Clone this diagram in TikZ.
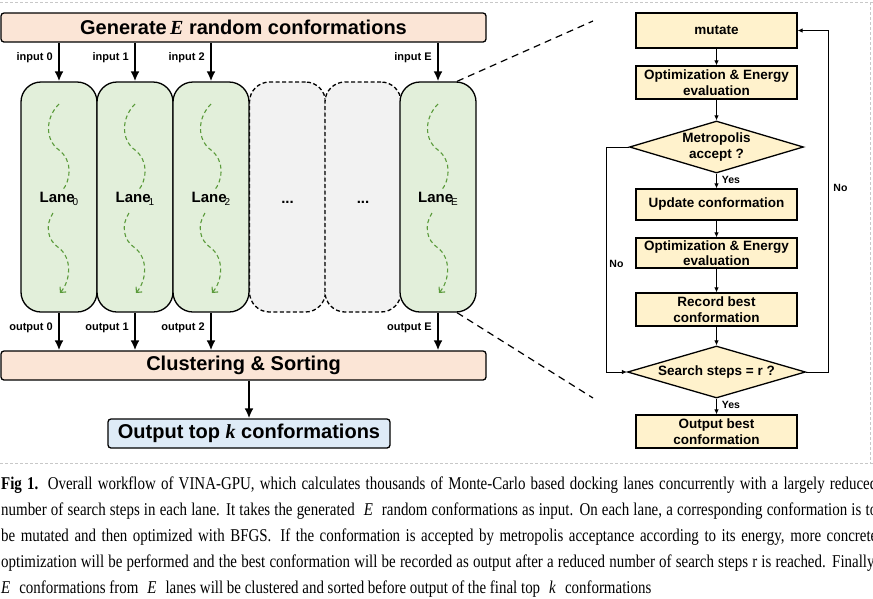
\documentclass[tikz,border=0pt]{standalone}
\usepackage{fontspec}
\setmainfont{Liberation Sans}
\newfontfamily\serif{Liberation Serif}
\newfontfamily\capfont[FakeStretch=0.83]{Liberation Serif}
\usepackage{tikz}
\usetikzlibrary{arrows.meta,shapes.geometric}

\definecolor{peach}{HTML}{FBE5D6}
\definecolor{lanegreen}{HTML}{E2EFDA}
\definecolor{ghostgray}{HTML}{F2F2F2}
\definecolor{topblue}{HTML}{DEEBF7}
\definecolor{flowyellow}{HTML}{FFF2CC}
\definecolor{wavegreen}{HTML}{5A9A3A}
\definecolor{framegray}{HTML}{C8C8C8}

\newcommand{\capline}[1]{\hbox to 876pt{#1}}

\tikzset{
  bar/.style={draw,line width=1.3pt,rounded corners=3pt,fill=peach,minimum width=485pt,minimum height=29pt,inner sep=1pt,font=\fontsize{20}{24}\selectfont\bfseries},
  lane/.style={draw,line width=1.3pt,rounded corners=20pt,fill=lanegreen,minimum width=76pt,minimum height=230pt},
  ghost/.style={lane,fill=ghostgray,dash pattern=on 4pt off 2.5pt},
  lanelbl/.style={inner sep=0pt,font=\fontsize{15}{18}\selectfont\bfseries},
  lbl/.style={inner sep=5pt,font=\fontsize{11}{13}\selectfont\bfseries},
  bigarrow/.style={line width=2.6pt,-{Latex[length=10pt,width=9pt]}},
  wave/.style={wavegreen,line width=1.1pt,dash pattern=on 4pt off 3pt},
  zoomline/.style={line width=1.2pt,dash pattern=on 7pt off 5pt},
  fbox/.style={draw,fill=flowyellow,line width=1.3pt,minimum width=161pt,minimum height=33pt,inner sep=1pt,align=center,font=\fontsize{13.5}{15.5}\selectfont\bfseries},
  dec/.style={diamond,draw,fill=flowyellow,line width=1.3pt,aspect=3.3,inner sep=0pt,minimum width=174pt,minimum height=52pt,align=center,font=\fontsize{13.5}{16}\selectfont\bfseries},
  flow/.style={line width=0.9pt,-{Latex[length=5pt,width=4.5pt]}},
  fl/.style={inner sep=3pt,font=\fontsize{10.5}{12}\selectfont\bfseries},
  captext/.style={anchor=base west,inner sep=0pt,font=\capfont\fontsize{18}{20}\selectfont},
  shotframe/.style={framegray,line width=0.6pt,dash pattern=on 3pt off 2pt}
}

\begin{document}
\begin{tikzpicture}[x=1pt,y=-1pt]
\useasboundingbox (0,0) rectangle (873,598);

% screenshot frame
\draw[shotframe] (0,2) -- (873,2);
\draw[shotframe] (870.5,2) -- (870.5,463);
\draw[shotframe] (0,463) -- (873,463);

% left part: lanes
\node[bar] (gen) at (243.5,27.5) {Generate\,{\serif\itshape E} random conformations};
\node[ghost] (g1) at (287.5,197) {};
\node[ghost] (g2) at (363,197) {};
\node[lanelbl,anchor=base] at ([yshift=-6pt]g1.center) {...};
\node[lanelbl,anchor=base] at ([yshift=-6pt]g2.center) {...};
\foreach \k/\cx in {0/59,1/135,2/211,E/438}{
  \node[lane] (l\k) at (\cx,197) {};
  \node[lanelbl,anchor=base] (t\k) at ([yshift=-5pt]l\k.center) {Lane\kern-2pt\raisebox{-3.5pt}{\normalfont\fontsize{10}{10}\selectfont\k}};
  \begin{scope}[shift={(\cx,197)}]
    \draw[wave] (0,-93) .. controls (-14,-79) and (-14,-57) .. (0,-47) .. controls (14,-36) and (12,-17) .. (3,-6);
    \draw[wave,-{Straight Barb[length=4pt,width=8pt]}] (-6,16) .. controls (-14,28) and (-12,43) .. (0,51) .. controls (13,61) and (12,83) .. (1,96);
  \end{scope}
}
\node[bar] (clus) at (243.5,365.5) {Clustering \& Sorting};
\node[bar,fill=topblue,minimum width=282pt] (topk) at (249,433.5) {Output top {\serif\itshape k} conformations};

\foreach \k in {0,1,2,E}{
  \draw[bigarrow] (gen.south -| l\k.north) -- (l\k.north) node[lbl,pos=0.38,left] {input \k};
  \draw[bigarrow] (l\k.south) -- (l\k.south |- clus.north) node[lbl,pos=0.4,left] {output \k};
}
\draw[bigarrow] (clus.south -| topk.north) -- (topk.north);

% zoom into one lane
\coordinate (zt) at (593,21);
\coordinate (zb) at (593,398);
\draw[zoomline] ([xshift=19pt]lE.north) -- (zt);
\draw[zoomline] ([xshift=19pt]lE.south) -- (zb);

% right part: flowchart of a lane
\node[fbox,minimum height=35pt] (mut) at (716.5,30.5) {mutate};
\node[fbox] (opt1) at (716.5,82.5) {Optimization \& Energy\\evaluation};
\node[dec] (met) at (716.5,147) {Metropolis\\accept ?};
\node[fbox,minimum height=31pt] (upd) at (716.5,204.5) {Update conformation};
\node[fbox,minimum height=30pt] (opt2) at (716.5,253) {Optimization \& Energy\\evaluation};
\node[fbox] (rec) at (716.5,309.5) {Record best\\conformation};
\node[dec,minimum width=178pt] (srch) at (716.5,372) {Search steps = r ?};
\node[fbox] (outb) at (716.5,431.5) {Output best\\conformation};

\draw[flow] (mut) -- (opt1);
\draw[flow] (opt1) -- (met);
\draw[flow] (met) -- (upd) node[fl,pos=0.4,right,xshift=2pt] {Yes};
\draw[flow] (upd) -- (opt2);
\draw[flow] (opt2) -- (rec);
\draw[flow] (rec) -- (srch);
\draw[flow] (srch) -- (outb) node[fl,pos=0.38,right,xshift=2pt] {Yes};

\coordinate (noL) at (606,0);
\coordinate (noR) at (828,0);
\draw[flow] (met.west) -- (met.west -| noL) |- (srch.west) node[fl,pos=0.26,right] {No};
\draw[flow] (srch.east) -- (srch.east -| noR) |- (mut.east) node[fl,pos=0.27,right,xshift=2pt] {No};

% caption
\node[captext] (c1) at (1,489) {\capline{\textbf{Fig 1.} Overall workflow of VINA-GPU, which calculates thousands of Monte-Carlo based docking lanes concurrently with a largely reduced}};
\node[captext] (c2) at (1,515) {\capline{number of search steps in each lane. It takes the generated\enspace\textit{E}\enspace random conformations as input. On each lane, a corresponding conformation is to}};
\node[captext] (c3) at (1,541) {\capline{be mutated and then optimized with BFGS.\enspace If the conformation is accepted by metropolis acceptance according to its energy, more concrete}};
\node[captext] (c4) at (1,567) {\capline{optimization will be performed and the best conformation will be recorded as output after a reduced number of search steps r is reached. Finally,}};
\node[captext] (c5) at (1,593) {\textit{E}\enspace conformations from\enspace\textit{E}\enspace lanes will be clustered and sorted before output of the final top\enspace\textit{k}\enspace conformations};
\end{tikzpicture}
\end{document}
